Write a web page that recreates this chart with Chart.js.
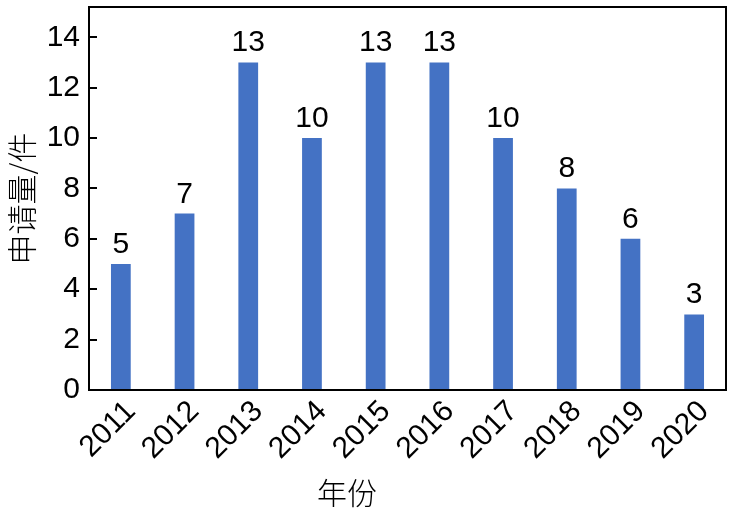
<!DOCTYPE html>
<html>
<head>
<meta charset="utf-8">
<script src="https://cdn.jsdelivr.net/npm/chart.js@4"></script>
<style>
  html, body { margin: 0; padding: 0; background: #fff; }
  #wrap { width: 734px; height: 514px; }
</style>
</head>
<body>
<div id="wrap"><canvas id="chart"></canvas></div>
<script>
// 申请量 per year
const years = ["2011", "2012", "2013", "2014", "2015", "2016", "2017", "2018", "2019", "2020"];
const counts = [5, 7, 13, 10, 13, 13, 10, 8, 6, 3];
const yTicks = [0, 2, 4, 6, 8, 10, 12, 14];
const xTitle = "年份";

// frame + inward ticks + value labels + x title (sits left of centre in the original)
const extras = {
    id: "extras",
    afterDraw(chart) {
        const ctx = chart.ctx;
        const a = chart.chartArea;
        const y = chart.scales.y;
        ctx.save();
        ctx.strokeStyle = "#000";
        ctx.lineWidth = 2;
        ctx.strokeRect(a.left, a.top, a.right - a.left, a.bottom - a.top);
        yTicks.forEach(v => {
            const py = Math.round(y.getPixelForValue(v));
            ctx.beginPath();
            ctx.moveTo(a.left, py);
            ctx.lineTo(a.left + 8, py);
            ctx.stroke();
        });
        ctx.fillStyle = "#000";
        ctx.font = "30px 'Liberation Sans', Arial, sans-serif";
        ctx.textAlign = "center";
        ctx.textBaseline = "alphabetic";
        chart.getDatasetMeta(0).data.forEach((bar, i) => {
            ctx.fillText(String(counts[i]), bar.x, bar.y - 11);
        });
        ctx.font = "300 30px 'Noto Sans CJK SC', sans-serif";
        ctx.textBaseline = "middle";
        ctx.fillText(xTitle, 347, 493);
        ctx.restore();
    }
};

const data = {
    labels: years,
    datasets: [{
        data: counts,
        backgroundColor: "#4472C4",
        categoryPercentage: 1,
        barPercentage: 0.31
    }]
};

const config = {
    type: "bar",
    data: data,
    options: {
        responsive: true,
        maintainAspectRatio: false,
        animation: false,
        layout: { padding: { top: 7, right: 8, left: 0, bottom: 0 } },
        plugins: { legend: { display: false }, tooltip: { enabled: false } },
        scales: {
            x: {
                grid: { display: false, drawTicks: false },
                border: { display: false },
                ticks: {
                    color: "#000",
                    font: { family: "'Liberation Sans', Arial, sans-serif", size: 30 },
                    minRotation: 45,
                    maxRotation: 45,
                    padding: 4,
                    labelOffset: 10
                },
                afterFit(scale) { scale.height = 124; scale.paddingLeft = 0; scale.paddingRight = 0; }
            },
            y: {
                min: 0,
                max: 15.2,
                afterBuildTicks(scale) { scale.ticks = yTicks.map(v => ({ value: v })); },
                grid: { display: false, drawTicks: false },
                border: { display: false },
                ticks: {
                    color: "#000",
                    font: { family: "'Liberation Sans', Arial, sans-serif", size: 30 },
                    padding: 9
                },
                title: {
                    display: true,
                    text: "申请量/件",
                    color: "#000",
                    font: { family: "'Noto Sans CJK SC', sans-serif", size: 30, weight: 300 },
                    padding: { top: 4, bottom: 0 }
                },
                afterFit(scale) { scale.width = 89; scale.paddingTop = 0; scale.paddingBottom = 0; }
            }
        }
    },
    plugins: [extras]
};

const chart1 = new Chart(document.getElementById("chart"), config);
</script>
</body>
</html>
